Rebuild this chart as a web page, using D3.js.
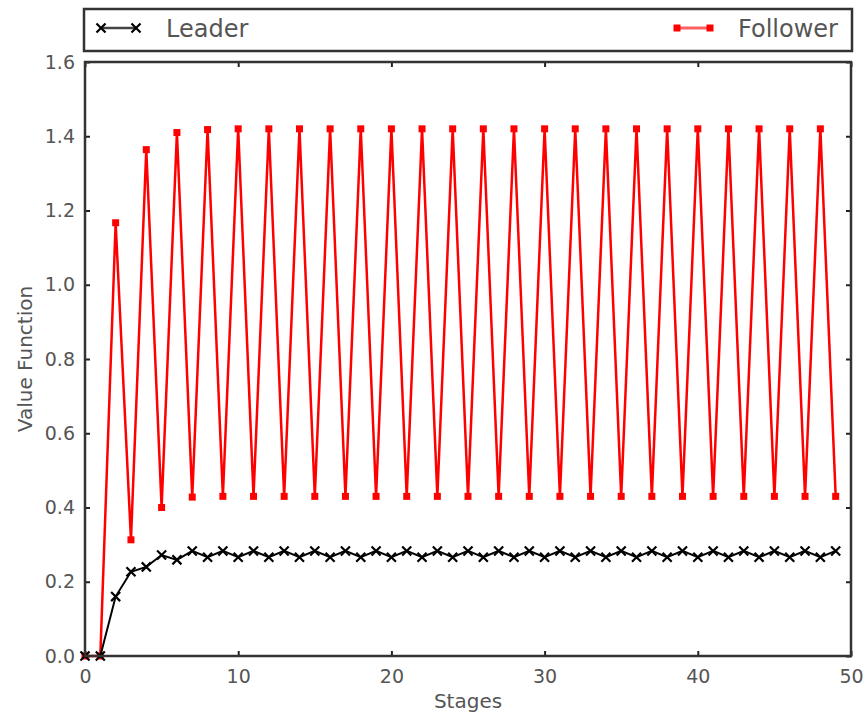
<!DOCTYPE html>
<html>
<head>
<meta charset="utf-8">
<script src="https://cdn.jsdelivr.net/npm/d3@7"></script>
<style>
  body { margin: 0; background: #fff; }
  text { font-family: "DejaVu Sans", sans-serif; fill: #555; }
</style>
</head>
<body>
<div id="chart"></div>
<script>
// values, stage index = position in array
var leader = [0, 0, 0.16, 0.227, 0.24, 0.272, 0.259, 0.283, 0.266, 0.283,
              0.266, 0.283, 0.266, 0.283, 0.266, 0.283, 0.266, 0.283, 0.266, 0.283,
              0.266, 0.283, 0.266, 0.283, 0.266, 0.283, 0.266, 0.283, 0.266, 0.283,
              0.266, 0.283, 0.266, 0.283, 0.266, 0.283, 0.266, 0.283, 0.266, 0.283,
              0.266, 0.283, 0.266, 0.283, 0.266, 0.283, 0.266, 0.283, 0.266, 0.283];
var follower = [0, 0, 1.167, 0.313, 1.364, 0.40, 1.41, 0.428, 1.418, 0.43,
                1.42, 0.43, 1.42, 0.43, 1.42, 0.43, 1.42, 0.43, 1.42, 0.43,
                1.42, 0.43, 1.42, 0.43, 1.42, 0.43, 1.42, 0.43, 1.42, 0.43,
                1.42, 0.43, 1.42, 0.43, 1.42, 0.43, 1.42, 0.43, 1.42, 0.43,
                1.42, 0.43, 1.42, 0.43, 1.42, 0.43, 1.42, 0.43, 1.42, 0.43];
var xTicks = [0, 10, 20, 30, 40, 50];
var yTicks = [0.0, 0.2, 0.4, 0.6, 0.8, 1.0, 1.2, 1.4, 1.6];
var seriesNames = ["Leader", "Follower"];

var width = 866, height = 717;
var margin = {top: 62, right: 15, bottom: 61, left: 85};

var svg = d3.select("#chart").append("svg")
    .attr("width", width)
    .attr("height", height);

var x = d3.scaleLinear().domain([0, 50]).range([margin.left, width - margin.right]);
var y = d3.scaleLinear().domain([0, 1.6]).range([height - margin.bottom, margin.top]);

// axes with inward ticks
var tickLen = 5;
svg.append("g")
    .attr("transform", `translate(0, ${y(0)})`)
    .call(d3.axisBottom(x).tickValues(xTicks).tickSize(-tickLen).tickPadding(14).tickFormat(d3.format("d")))
    .call(g => g.select(".domain").remove());
svg.append("g")
    .attr("transform", `translate(0, ${y(1.6)})`)
    .call(d3.axisTop(x).tickValues(xTicks).tickSize(-tickLen).tickFormat(""))
    .call(g => g.select(".domain").remove());
svg.append("g")
    .attr("transform", `translate(${x(0)}, 0)`)
    .call(d3.axisLeft(y).tickValues(yTicks).tickSize(-tickLen).tickPadding(10).tickFormat(d3.format(".1f")))
    .call(g => g.select(".domain").remove());
svg.append("g")
    .attr("transform", `translate(${x(50)}, 0)`)
    .call(d3.axisRight(y).tickValues(yTicks).tickSize(-tickLen).tickFormat(""))
    .call(g => g.select(".domain").remove());

svg.selectAll(".tick line").attr("stroke", "#222").attr("stroke-width", 2);
svg.selectAll(".tick text").style("font-size", "19px").attr("fill", "#555");

// lines
var line = d3.line().x((d, i) => x(i)).y(d => y(d));

svg.append("path")
    .datum(follower)
    .attr("fill", "none")
    .attr("stroke", "#ff0000")
    .attr("stroke-width", 2.5)
    .attr("d", line);

svg.selectAll("rect.fmark")
    .data(follower)
    .enter()
    .append("rect")
    .attr("class", "fmark")
    .attr("x", (d, i) => x(i) - 3.5)
    .attr("y", d => y(d) - 3.5)
    .attr("width", 7)
    .attr("height", 7)
    .attr("fill", "#ff0000");

svg.append("path")
    .datum(leader)
    .attr("fill", "none")
    .attr("stroke", "#000")
    .attr("stroke-width", 2)
    .attr("d", line);

var xMark = d3.symbol().type(d3.symbolTimes).size(55);
svg.selectAll("path.lmark")
    .data(leader)
    .enter()
    .append("path")
    .attr("class", "lmark")
    .attr("transform", (d, i) => `translate(${x(i)}, ${y(d)})`)
    .attr("d", xMark)
    .attr("fill", "#000")
    .attr("stroke", "#000")
    .attr("stroke-width", 2.2);

// frame
svg.append("rect")
    .attr("x", x(0))
    .attr("y", y(1.6))
    .attr("width", x(50) - x(0))
    .attr("height", y(0) - y(1.6))
    .attr("fill", "none")
    .attr("stroke", "#333")
    .attr("stroke-width", 2.5);

// axis labels
svg.append("text")
    .attr("x", (x(0) + x(50)) / 2)
    .attr("y", 708)
    .attr("text-anchor", "middle")
    .style("font-size", "20px")
    .text("Stages");

svg.append("text")
    .attr("transform", `translate(32, ${(y(0) + y(1.6)) / 2}) rotate(-90)`)
    .attr("text-anchor", "middle")
    .style("font-size", "20px")
    .text("Value Function");

// legend
var legend = svg.append("g");
legend.append("rect")
    .attr("x", 84)
    .attr("y", 9)
    .attr("width", 768)
    .attr("height", 42)
    .attr("fill", "#fff")
    .attr("stroke", "#333")
    .attr("stroke-width", 2.5);

legend.append("line")
    .attr("x1", 101).attr("x2", 136).attr("y1", 28).attr("y2", 28)
    .attr("stroke", "#444").attr("stroke-width", 2.5);
[101, 136].forEach(function(px) {
    legend.append("path")
        .attr("transform", `translate(${px}, 28)`)
        .attr("d", xMark)
        .attr("fill", "#000").attr("stroke", "#000").attr("stroke-width", 2.2);
});
legend.append("text")
    .attr("x", 166).attr("y", 37)
    .style("font-size", "24px")
    .text(seriesNames[0]);

legend.append("line")
    .attr("x1", 677).attr("x2", 710).attr("y1", 28).attr("y2", 28)
    .attr("stroke", "#ff6060").attr("stroke-width", 3);
[677, 710].forEach(function(px) {
    legend.append("rect")
        .attr("x", px - 3.5).attr("y", 24.5)
        .attr("width", 7).attr("height", 7)
        .attr("fill", "#ff0000");
});
legend.append("text")
    .attr("x", 738).attr("y", 37)
    .style("font-size", "24px")
    .text(seriesNames[1]);
</script>
</body>
</html>
